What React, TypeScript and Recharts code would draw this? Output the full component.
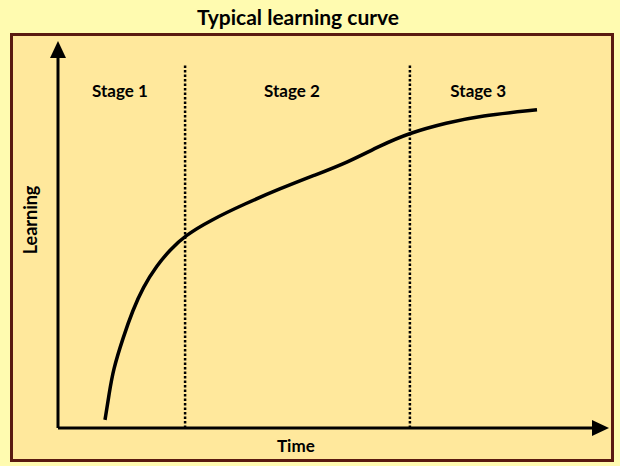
import React from 'react';
import { LineChart, Line, XAxis, YAxis, ReferenceLine, ReferenceDot } from 'recharts';

// time (arbitrary units) and learning (arbitrary units)
const time = [8.8, 9.6, 10.3, 12.2, 14.0, 15.9, 18.5, 21.0, 23.8, 28.5, 35.0, 41.6, 47.8, 54.1, 60.3, 65.9, 72.8, 79.0, 89.7];
const learning = [2.2, 9.4, 15.6, 24.5, 31.8, 38.0, 43.9, 48.2, 52.0, 56.1, 60.6, 64.7, 68.2, 71.7, 76.3, 79.8, 82.5, 84.4, 86.0];

const stageBounds = [23.8, 65.9];
const stageNames = ['Stage 1', 'Stage 2', 'Stage 3'];
const stageCenters = [11.6, 43.8, 78.7];
const stageLabelY = 91;

const data = time.map((t, i) => ({ time: t, learning: learning[i] }));

const FONT = 'Lato, "Open Sans", sans-serif';
const OUTER_BG = '#FFFBB0';
const INNER_BG = '#FFE89C';
const BORDER = '#5A1A10';

// axis line with a filled arrow head past its end point
const ArrowLine = (props: any) => {
  const { x1, y1, x2, y2 } = props;
  const len = Math.hypot(x2 - x1, y2 - y1) || 1;
  const ux = (x2 - x1) / len;
  const uy = (y2 - y1) / len;
  const head = 17;
  const half = 8;
  const tipX = x2 + ux * head;
  const tipY = y2 + uy * head;
  const pts = `${tipX},${tipY} ${x2 - uy * half},${y2 + ux * half} ${x2 + uy * half},${y2 - ux * half}`;
  return (
    <g>
      <line x1={x1} y1={y1} x2={x2} y2={y2} stroke="#000" strokeWidth={3} />
      <polygon points={pts} fill="#000" />
    </g>
  );
};

const App: React.FC = () => {
  return (
    <div style={{ position: 'absolute', left: 0, top: 0, width: 620, height: 466, background: OUTER_BG, overflow: 'hidden' }}>
      <div style={{ position: 'absolute', left: 0, width: 596, top: 4, textAlign: 'center', fontFamily: FONT, fontWeight: 700, fontSize: 21, color: '#000' }}>
        Typical learning curve
      </div>

      <div style={{ position: 'absolute', left: 10, top: 33, width: 598, height: 423, border: `3px solid ${BORDER}`, background: INNER_BG }} />

      <div style={{ position: 'absolute', left: 0, top: 0 }}>
        <LineChart width={620} height={466} data={data} margin={{ top: 58, right: 28, bottom: 38, left: 58 }}>
          <XAxis type="number" dataKey="time" domain={[0, 100]} hide />
          <YAxis type="number" domain={[0, 100]} hide />
          <ReferenceLine segment={[{ x: 0, y: 0 }, { x: 0, y: 100 }]} ifOverflow="visible" shape={ArrowLine} />
          <ReferenceLine segment={[{ x: 0, y: 0 }, { x: 100, y: 0 }]} ifOverflow="visible" shape={ArrowLine} />
          {stageBounds.map((x) => (
            <ReferenceLine key={x} segment={[{ x, y: 0 }, { x, y: 98.5 }]} stroke="#000" strokeWidth={2.5} strokeDasharray="2.5 2" />
          ))}
          {stageNames.map((name, i) => (
            <ReferenceDot key={name} x={stageCenters[i]} y={stageLabelY} r={0} stroke="none" fill="none"
              label={{ value: name, position: 'center', fill: '#000', fontFamily: FONT, fontWeight: 700, fontSize: 17 }} />
          ))}
          <Line type="basis" dataKey="learning" stroke="#000" strokeWidth={3.5} dot={false} isAnimationActive={false} />
        </LineChart>
      </div>

      <div style={{ position: 'absolute', left: 277, top: 435, fontFamily: FONT, fontWeight: 700, fontSize: 17, color: '#000' }}>
        Time
      </div>
      <div style={{ position: 'absolute', left: 30, top: 220, transform: 'translate(-50%, -50%) rotate(-90deg)', fontFamily: FONT, fontWeight: 700, fontSize: 18, color: '#000', whiteSpace: 'nowrap' }}>
        Learning
      </div>
    </div>
  );
};

export default App;
